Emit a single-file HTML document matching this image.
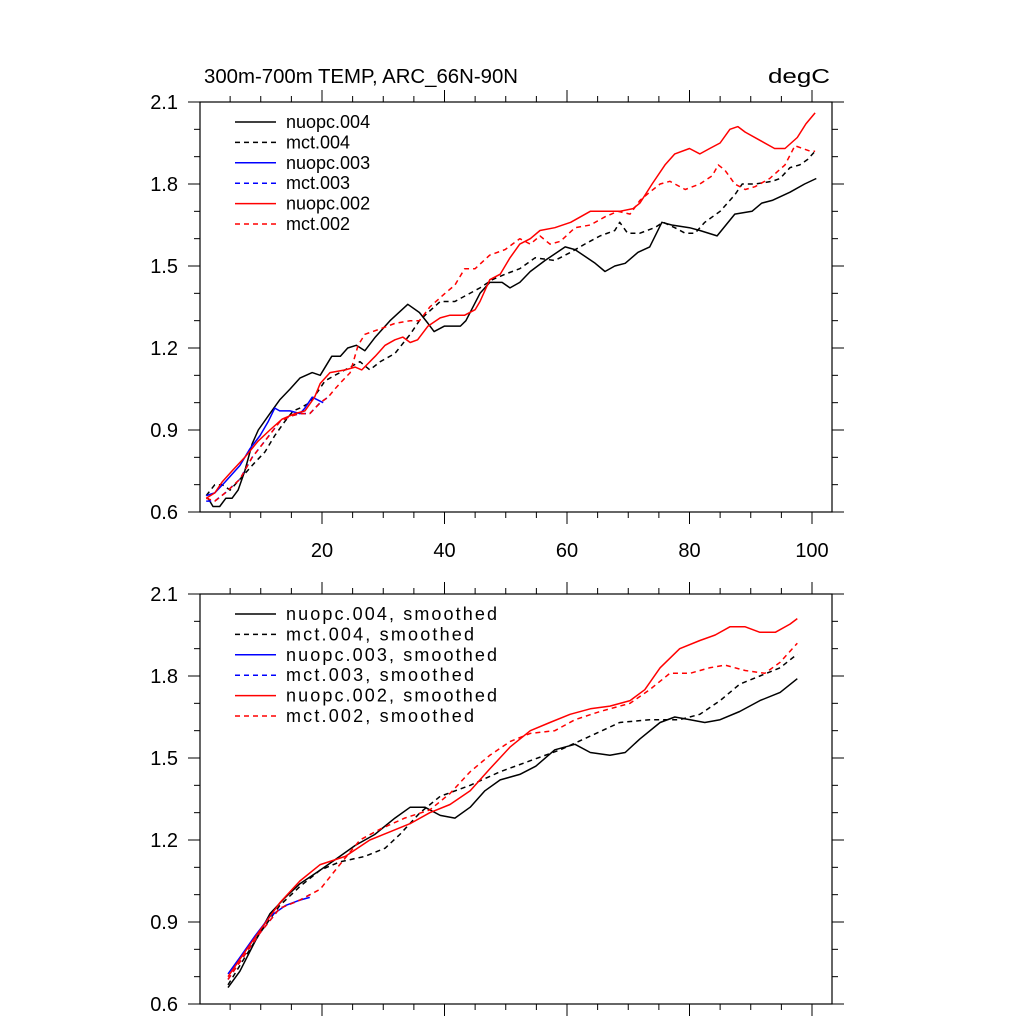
<!DOCTYPE html>
<html><head><meta charset="utf-8"><style>
body{margin:0;background:#fff}
svg text{font-family:"Liberation Sans",sans-serif}
</style></head><body>
<svg id="chart" width="1024" height="1024" xmlns="http://www.w3.org/2000/svg">
<text x="204" y="83" font-size="20" textLength="314" lengthAdjust="spacingAndGlyphs">300m-700m TEMP, ARC_66N-90N</text>
<text x="768" y="83" font-size="20" textLength="62" lengthAdjust="spacingAndGlyphs">degC</text>
</svg>
<script>
const xTicks=[20,40,60,80,100];
const yTicks=[0.6,0.9,1.2,1.5,1.8,2.1];
const legendTop=["nuopc.004","mct.004","nuopc.003","mct.003","nuopc.002","mct.002"];
const legendBot=["nuopc.004, smoothed","mct.004, smoothed","nuopc.003, smoothed","mct.003, smoothed","nuopc.002, smoothed","mct.002, smoothed"];
const colors=["#000","#000","#00f","#00f","#f00","#f00"];
const dashed=[false,true,false,true,false,true];

const n004x=[1.4,2.2,3.3,4.3,5.3,6.3,7.4,8.6,9.6,11.5,13.1,14.8,16.4,18.4,19.7,21.6,23,24.2,25.6,27,28.7,31.1,34,35.9,37.3,38.3,40,42.6,43.5,45.8,47.4,49.4,50.7,52.3,54,56.4,59.7,61.3,64.6,66.2,67.8,69.5,71.6,73.5,75.5,77.1,80,81.7,84.5,87.4,90.2,91.8,93.5,96.4,98.8,100.7];
const n004y=[0.65,0.62,0.62,0.65,0.65,0.68,0.75,0.85,0.90,0.96,1.01,1.05,1.09,1.11,1.10,1.17,1.17,1.20,1.21,1.19,1.24,1.30,1.36,1.33,1.29,1.26,1.28,1.28,1.30,1.40,1.44,1.44,1.42,1.44,1.48,1.52,1.57,1.56,1.51,1.48,1.50,1.51,1.55,1.57,1.66,1.65,1.64,1.63,1.61,1.69,1.70,1.73,1.74,1.77,1.80,1.82];
const m004x=[1.1,2.5,3.7,5,6.6,9,10.7,12.3,13.9,15.3,16.4,18,19.3,20.5,22.1,24.6,26.2,27.8,29.5,31.9,34.4,35.9,37.3,39.3,41.7,43.3,45.8,47.8,49.9,52.3,54.8,58,60.6,62.9,65.4,67.8,68.6,69.9,71.9,74.3,75.7,77.6,79.3,80.9,82.5,85,87.4,88.6,90.7,93.5,94.8,96.4,98,99.3,100.5];
const m004y=[0.66,0.70,0.70,0.68,0.72,0.78,0.82,0.88,0.93,0.97,0.98,1.00,1.04,1.08,1.10,1.13,1.15,1.12,1.15,1.18,1.25,1.30,1.33,1.37,1.37,1.39,1.42,1.45,1.47,1.49,1.53,1.52,1.55,1.58,1.61,1.63,1.66,1.62,1.62,1.64,1.66,1.64,1.62,1.62,1.66,1.70,1.76,1.80,1.80,1.81,1.82,1.86,1.87,1.89,1.92];
const n003x=[1.1,2.5,4.2,6.6,8.2,9.9,11.2,12.3,13.1,14.8,16.4,17.2,18.4,19.3,20.2];
const n003y=[0.66,0.67,0.71,0.77,0.83,0.88,0.93,0.98,0.97,0.97,0.96,0.98,1.02,1.01,1.00];
const m003x=[1.1,2.5,4.2,6.6,8.6,10.7,13.1,14.8,16.4,18,19.7,21];
const m003y=[0.64,0.64,0.67,0.72,0.80,0.86,0.93,0.95,0.96,0.96,1.00,1.02];
const n002x=[1.1,2.5,3.7,5.3,7.4,9.6,11.5,13.5,15.6,17.2,18.8,19.7,21.3,23.8,25.4,26.5,28.7,30.3,31.9,33.2,34.4,35.6,37.3,39.3,40.9,43.3,45,45.8,47.4,49.1,50.7,52.3,54,55.6,58,60.6,63.8,67,68.6,70.8,71.9,73.9,76,77.6,80,81.7,83.3,85,86.6,87.9,89.1,91.5,93.9,95.6,97.6,99,100.5];
const n002y=[0.65,0.67,0.71,0.75,0.80,0.86,0.90,0.94,0.96,0.97,1.02,1.07,1.11,1.12,1.13,1.12,1.17,1.21,1.23,1.24,1.22,1.23,1.28,1.31,1.32,1.32,1.34,1.37,1.45,1.47,1.53,1.58,1.60,1.63,1.64,1.66,1.70,1.70,1.70,1.71,1.73,1.80,1.87,1.91,1.93,1.91,1.93,1.95,2.00,2.01,1.99,1.96,1.93,1.93,1.97,2.02,2.06];
const m002x=[1.1,2.5,4.2,6.6,8.6,10.7,13.1,14.8,16.4,18,19.7,21,22.1,22.9,24.6,25.9,27,29.5,31.9,34.4,35.9,37.6,40.1,41.7,43.3,45,47.4,49.9,52.3,54,55.6,57.2,58.9,61.3,63.8,66.2,68.3,70.3,71.9,73.5,75.2,76.8,79.3,81.7,83.7,84.7,85.8,87.4,89.1,90.7,93.1,95.6,97.2,99.7,100.5];
const m002y=[0.65,0.64,0.67,0.72,0.80,0.86,0.93,0.95,0.96,0.96,1.00,1.02,1.05,1.07,1.11,1.21,1.25,1.27,1.29,1.30,1.30,1.35,1.40,1.43,1.49,1.49,1.54,1.56,1.60,1.58,1.61,1.58,1.59,1.64,1.65,1.68,1.70,1.69,1.74,1.77,1.80,1.81,1.78,1.80,1.83,1.87,1.85,1.80,1.78,1.79,1.82,1.87,1.94,1.92,1.92];

const sn004x=[4.65,6.6,9.1,11.5,14.0,16.4,19.7,22.9,25.4,28.6,31.9,34.4,36.8,39.3,41.7,44.2,46.6,49.1,52.3,54.9,58.0,61.3,63.8,67.0,69.5,71.9,75.2,77.6,80.1,82.5,85.0,88.2,91.5,94.8,97.6];
const sn004y=[0.66,0.72,0.83,0.93,0.99,1.04,1.09,1.14,1.18,1.22,1.28,1.32,1.32,1.29,1.28,1.32,1.38,1.42,1.44,1.47,1.53,1.55,1.52,1.51,1.52,1.57,1.63,1.65,1.64,1.63,1.64,1.67,1.71,1.74,1.79];
const sm004x=[4.65,7.4,9.9,13.1,16.4,19.7,22.9,27.0,30.3,32.7,36.0,39.3,44.2,49.1,54.0,58.9,63.8,68.6,73.5,78.4,81.7,85.0,88.2,91.5,94.8,97.6];
const sm004y=[0.67,0.77,0.86,0.96,1.03,1.09,1.12,1.14,1.17,1.22,1.30,1.36,1.40,1.45,1.49,1.53,1.58,1.63,1.64,1.64,1.66,1.71,1.77,1.80,1.83,1.88];
const sn003x=[4.65,6.6,9.1,11.5,14.0,16.4,18.0];
const sn003y=[0.71,0.77,0.85,0.92,0.96,0.98,0.99];
const sm003x=[4.65,7.4,9.9,13.1,16.4,18.0];
const sm003y=[0.69,0.78,0.86,0.95,0.98,1.00];
const sn002x=[4.65,7.4,9.9,13.1,16.4,19.7,23.8,27.8,31.1,34.4,37.6,40.9,44.2,47.4,50.7,54.0,57.2,60.5,63.8,67.0,70.3,72.7,75.2,78.4,81.7,84.2,86.6,89.1,91.5,94.0,96.4,97.6];
const sn002y=[0.70,0.79,0.87,0.97,1.05,1.11,1.14,1.20,1.23,1.26,1.30,1.33,1.38,1.46,1.54,1.60,1.63,1.66,1.68,1.69,1.71,1.75,1.83,1.90,1.93,1.95,1.98,1.98,1.96,1.96,1.99,2.01];
const sm002x=[4.65,7.4,9.9,13.1,16.4,19.7,22.9,26.2,29.5,33.5,37.6,40.9,44.2,47.4,50.7,54.0,58.0,61.3,65.4,70.3,73.5,76.8,80.1,83.3,85.8,89.1,92.3,94.8,97.6];
const sm002y=[0.69,0.78,0.86,0.95,0.98,1.02,1.11,1.20,1.24,1.28,1.31,1.37,1.45,1.51,1.56,1.59,1.60,1.64,1.67,1.70,1.75,1.81,1.81,1.83,1.84,1.82,1.81,1.85,1.92];

const svg=document.getElementById('chart');
const NS='http://www.w3.org/2000/svg';
function el(t,a,p){const e=document.createElementNS(NS,t);for(const k in a)e.setAttribute(k,a[k]);(p||svg).appendChild(e);return e;}
const L=200,R=832;
const xS=v=>199.5+v*6.125;

function panel(top,bottom,name,series,xs,ys,legend,legY,showX,legW){
  const yS=v=>bottom-(v-0.6)/1.5*(bottom-top);
  const g=el('g',{});
  
  
  for(let v=5;v<=100;v+=5){const maj=v%20===0,len=maj?12:6,x=xS(v);
    el('line',{x1:x,x2:x,y1:bottom,y2:bottom+len,stroke:'#000','stroke-width':1},g);
    el('line',{x1:x,x2:x,y1:top,y2:top-len,stroke:'#000','stroke-width':1},g);}
  for(let i=0;i<=15;i++){const v=0.6+i*0.1,maj=i%3===0,len=maj?12:6,y=yS(v);
    el('line',{x1:L,x2:L-len,y1:y,y2:y,stroke:'#000','stroke-width':1},g);
    el('line',{x1:R,x2:R+len,y1:y,y2:y,stroke:'#000','stroke-width':1},g);}
  yTicks.forEach(v=>{const t=el('text',{x:178,y:yS(v)+7,'font-size':20,'text-anchor':'end'},g);t.textContent=v.toFixed(1);
    
    });
  if(showX)xTicks.forEach(v=>{const t=el('text',{x:xS(v),y:bottom+45,'font-size':20,'text-anchor':'middle'},g);t.textContent=v;
    
    });
  xs.forEach((X,i)=>{const Y=ys[i];
    const d=X.map((x,j)=>(j?'L':'M')+xS(x).toFixed(1)+' '+yS(Y[j]).toFixed(1)).join(' ');
    const p=el('path',{d:d,fill:'none',stroke:colors[i],'stroke-width':1.5,'stroke-dasharray':dashed[i]?'5 4':'none','stroke-linejoin':'round'},g);
    
    });
  legend.forEach((s,i)=>{const y=legY+i*20.4;
    const l=el('line',{x1:235,x2:276,y1:y,y2:y,stroke:colors[i],'stroke-width':1.5,'stroke-dasharray':dashed[i]?'5 4':'none'},g);
    
    
    const t=el('text',{x:286,y:y+6,'font-size':18},g);t.textContent=s;
    if(legW)t.setAttribute('textLength',legW[i]);
    
    });
  el('rect',{x:L,y:top,width:R-L,height:bottom-top,fill:'none',stroke:'#000','stroke-width':1.2},g);
}
panel(102,512,'top-panel',['nuopc-004-line','mct-004-line','nuopc-003-line','mct-003-line','nuopc-002-line','mct-002-line'],
  [n004x,m004x,n003x,m003x,n002x,m002x],[n004y,m004y,n003y,m003y,n002y,m002y],legendTop,122,true,null);
panel(594,1004,'bottom-panel',['nuopc-004-smoothed','mct-004-smoothed','nuopc-003-smoothed','mct-003-smoothed','nuopc-002-smoothed','mct-002-smoothed'],
  [sn004x,sm004x,sn003x,sm003x,sn002x,sm002x],[sn004y,sm004y,sn003y,sm003y,sn002y,sm002y],legendBot,614,false,[211,188,211,188,211,188]);
</script>
</body></html>
